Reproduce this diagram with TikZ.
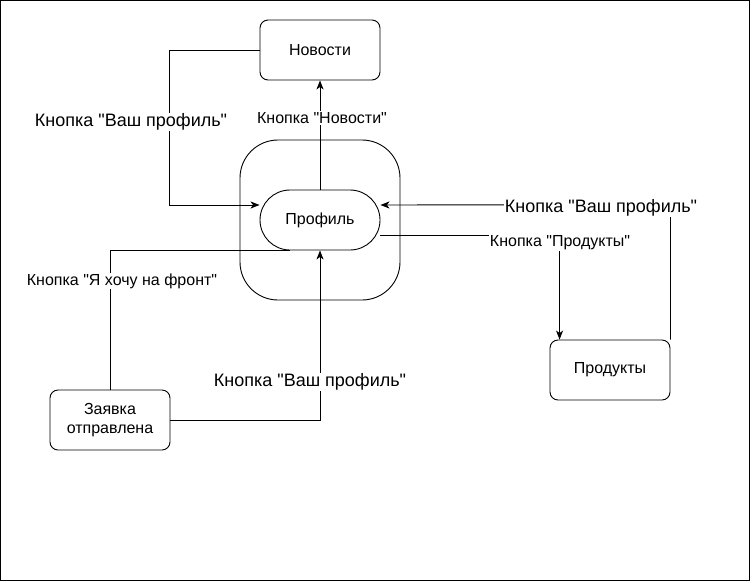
\documentclass[tikz,border=0pt]{standalone}
\usepackage{fontspec}
\newfontfamily\uifont{Liberation Sans}
\usetikzlibrary{calc, arrows.meta}
\newcommand{\smalltxt}{\uifont\fontsize{16}{19}\selectfont}
\newcommand{\bigtxt}{\uifont\fontsize{18}{21}\selectfont}
\tikzset{
  screen/.style={draw, rounded corners=8pt, minimum width=120pt, minimum height=60pt, align=center, font=\smalltxt, inner sep=2pt},
  btn/.style={fill=white, inner sep=1pt, font=\smalltxt},
  bigbtn/.style={fill=white, inner sep=1pt, font=\bigtxt},
}

\begin{document}
\begin{tikzpicture}[x=1pt, y=-1pt, >={Stealth[length=9pt,width=7pt,inset=2.5pt]}, line width=0.9pt]
        \useasboundingbox (0,0) rectangle (752,582);
        % the frame around everything
        \draw[line width=1.4pt] (0.7,0.7) rectangle (749.3,580.3);

        % the screens
        \node[draw, rounded corners=38pt, minimum width=160pt, minimum height=160pt] (frame) at (320,220) {};
        \node[screen, rounded corners=30pt] (profile) at (320,220) {Профиль};
        \node[screen] (news) at (320,50) {Новости};
        \node[screen] (products) at (610,370) {Продукты};
        \node[screen] (request) at (110,420) {Заявка\\отправлена};

        % the arrows between screens
        \draw[->] (profile) -- (news);
        \draw[->] (news.west) -- ++(-90,0) |- ($(profile.west)+(0,-15)$);
        \draw[->] (products.north east) -- ++(0,-135) -- ($(profile.east)+(0,-15)$);
        \draw[->] ($(profile.east)+(0,15)$) -| ($(products.north west)+(10,0)$);
        \draw (request.north) |- ($(profile.south west)+(30,0)$);
        \draw[->] (request.east) -| (profile.south);

        % the labels
        \node[btn] (lnews) at (322,118) {Кнопка "Новости"};
        \node[bigbtn] (lback1) at (131,122) {Кнопка "Ваш профиль"};
        \node[bigbtn] (lback2) at (601,208) {Кнопка "Ваш профиль"};
        \node[btn] (lprod) at (560,243) {Кнопка "Продукты"};
        \node[btn] (lfront) at (122,281) {Кнопка "Я хочу на фронт"};
        \node[bigbtn] (lback3) at (310,382) {Кнопка "Ваш профиль"};
\end{tikzpicture}
\end{document}
